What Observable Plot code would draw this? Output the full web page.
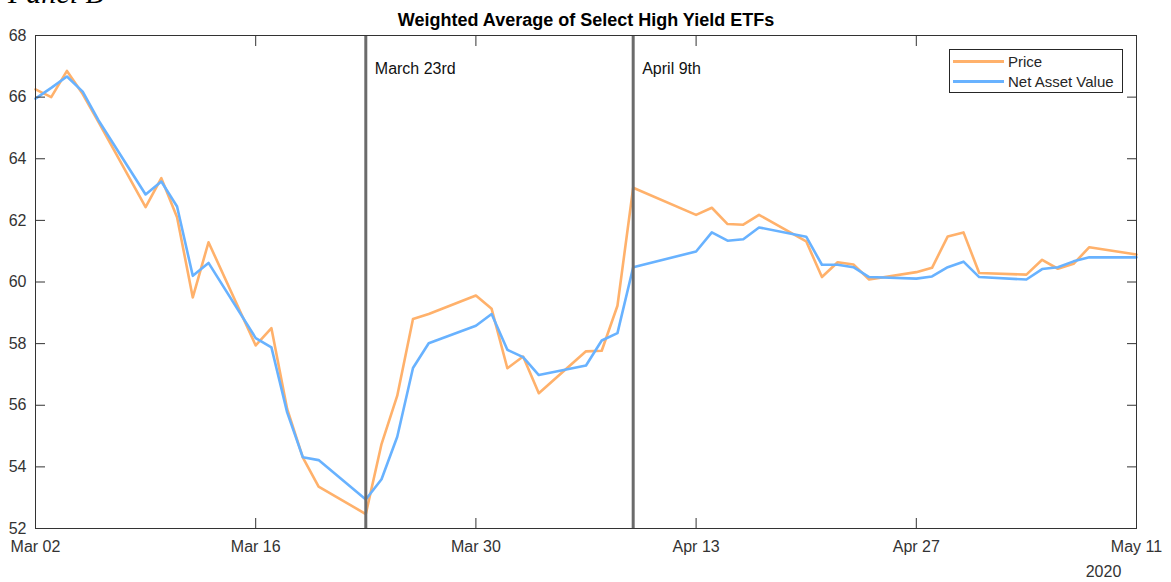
<!DOCTYPE html>
<html>
<head>
<meta charset="utf-8">
<script src="https://cdn.jsdelivr.net/npm/d3@7"></script>
<script src="https://cdn.jsdelivr.net/npm/@observablehq/plot@0.6"></script>
<style>
  html, body { margin: 0; padding: 0; background: #fff; overflow: hidden; }
  #wrap { position: relative; width: 1171px; height: 582px; font-family: "Liberation Sans", Arial, sans-serif; }
  #panel { position: absolute; left: 8px; top: -22px; font-family: "Liberation Serif", "Times New Roman", serif; font-style: italic; font-size: 30px; line-height: 1; color: #000; white-space: nowrap; }
  #legend { position: absolute; left: 949px; top: 49px; width: 172px; height: 42px; border: 1px solid #262626; background: #fff; font-size: 15px; color: #262626; }
  .row { position: absolute; left: 3px; height: 18px; display: flex; align-items: center; }
  .sw { width: 51px; height: 3px; margin-right: 4px; }
</style>
</head>
<body>
<div id="wrap">
  <div id="chart"></div>
  <div id="panel">Panel B</div>
  <div id="legend">
    <div class="row" style="top:2px"><span class="sw" style="background:#FFB16B"></span><span>Price</span></div>
    <div class="row" style="top:22px"><span class="sw" style="background:#68B2FF"></span><span>Net Asset Value</span></div>
  </div>
</div>
<script>
const dates = [
  "2020-03-02","2020-03-03","2020-03-04","2020-03-05","2020-03-06",
  "2020-03-09","2020-03-10","2020-03-11","2020-03-12","2020-03-13",
  "2020-03-16","2020-03-17","2020-03-18","2020-03-19","2020-03-20",
  "2020-03-23","2020-03-24","2020-03-25","2020-03-26","2020-03-27",
  "2020-03-30","2020-03-31","2020-04-01","2020-04-02","2020-04-03",
  "2020-04-06","2020-04-07","2020-04-08","2020-04-09",
  "2020-04-13","2020-04-14","2020-04-15","2020-04-16","2020-04-17",
  "2020-04-20","2020-04-21","2020-04-22","2020-04-23","2020-04-24",
  "2020-04-27","2020-04-28","2020-04-29","2020-04-30","2020-05-01",
  "2020-05-04","2020-05-05","2020-05-06","2020-05-07","2020-05-08",
  "2020-05-11"
];
const price = [
  66.25, 66.00, 66.85, 66.10, 65.20,
  62.43, 63.37, 62.10, 59.50, 61.29,
  57.94, 58.50, 55.88, 54.30, 53.36,
  52.47, 54.74, 56.31, 58.80, 58.96,
  59.56, 59.13, 57.20, 57.58, 56.39,
  57.75, 57.77, 59.23, 63.06,
  62.18, 62.41, 61.88, 61.86, 62.18,
  61.32, 60.16, 60.64, 60.57, 60.08,
  60.32, 60.46, 61.48, 61.61, 60.29,
  60.24, 60.72, 60.43, 60.59, 61.13,
  60.89
];
const nav = [
  65.95, 66.30, 66.67, 66.18, 65.25,
  62.84, 63.26, 62.45, 60.20, 60.62,
  58.18, 57.88, 55.77, 54.31, 54.22,
  52.94, 53.60, 54.98, 57.21, 58.01,
  58.58, 58.96, 57.80, 57.56, 56.98,
  57.29, 58.10, 58.34, 60.48,
  60.99, 61.61, 61.34, 61.39, 61.77,
  61.47, 60.56, 60.56, 60.48, 60.16,
  60.11, 60.18, 60.48, 60.66, 60.16,
  60.08, 60.42, 60.48, 60.67, 60.80,
  60.80
];
const xTickDates = ["2020-03-02","2020-03-16","2020-03-30","2020-04-13","2020-04-27","2020-05-11"];
const yTicks = [52, 54, 56, 58, 60, 62, 64, 66, 68];
const eventDates = ["2020-03-23", "2020-04-09"];
const eventLabels = ["March 23rd", "April 9th"];
const title = "Weighted Average of Select High Yield ETFs";
const yearLabel = "2020";

const rows = dates.map((d, i) => ({date: new Date(d), price: price[i], nav: nav[i]}));
const xTicks = xTickDates.map(d => new Date(d));
const events = eventDates.map((d, i) => ({date: new Date(d), label: eventLabels[i]}));
const axisColor = "#333";

const chart = Plot.plot({
  width: 1171,
  height: 582,
  marginLeft: 35,
  marginRight: 35,
  marginTop: 35,
  marginBottom: 54,
  style: {fontFamily: "'Liberation Sans', Arial, sans-serif", fontSize: "16px", color: axisColor, background: "#fff"},
  x: {type: "utc", domain: [new Date("2020-03-02"), new Date("2020-05-11")], label: null},
  y: {domain: [52, 68], label: null},
  marks: [
    Plot.lineY(rows, {x: "date", y: "price", stroke: "#FFB16B", strokeWidth: 2.6}),
    Plot.lineY(rows, {x: "date", y: "nav", stroke: "#68B2FF", strokeWidth: 2.6}),
    Plot.ruleX(events, {x: "date", stroke: "#6b6b6b", strokeWidth: 3}),
    Plot.text(events, {x: "date", text: "label", frameAnchor: "top", dy: 33, dx: 9, textAnchor: "start", lineAnchor: "middle", fontSize: 16, fill: "#111"}),
    Plot.axisY({ticks: yTicks, tickSize: 0, tickPadding: 9, label: null, fontSize: 16}),
    Plot.axisY({ticks: yTicks, tickSize: 10, dx: 10, text: null, label: null, stroke: axisColor}),
    Plot.axisY({anchor: "right", ticks: yTicks, tickSize: 10, dx: -10, text: null, label: null, stroke: axisColor}),
    Plot.axisX({ticks: xTicks, tickSize: 0, tickPadding: 12, tickFormat: d3.utcFormat("%b %d"), label: null, fontSize: 16}),
    Plot.axisX({ticks: xTicks, tickSize: 10, dy: -10, text: null, label: null, stroke: axisColor}),
    Plot.axisX({anchor: "top", ticks: xTicks, tickSize: 10, dy: 10, text: null, label: null, stroke: axisColor}),
    Plot.frame({stroke: axisColor, strokeWidth: 1}),
    Plot.text([title], {frameAnchor: "top", dy: -15, lineAnchor: "middle", fontSize: 18, fontWeight: "bold", fill: "#000"}),
    Plot.text([yearLabel], {frameAnchor: "bottom-right", dx: -33, dy: 43, textAnchor: "middle", lineAnchor: "middle", fontSize: 16, fill: axisColor})
  ]
});
document.getElementById("chart").appendChild(chart);
</script>
</body>
</html>
